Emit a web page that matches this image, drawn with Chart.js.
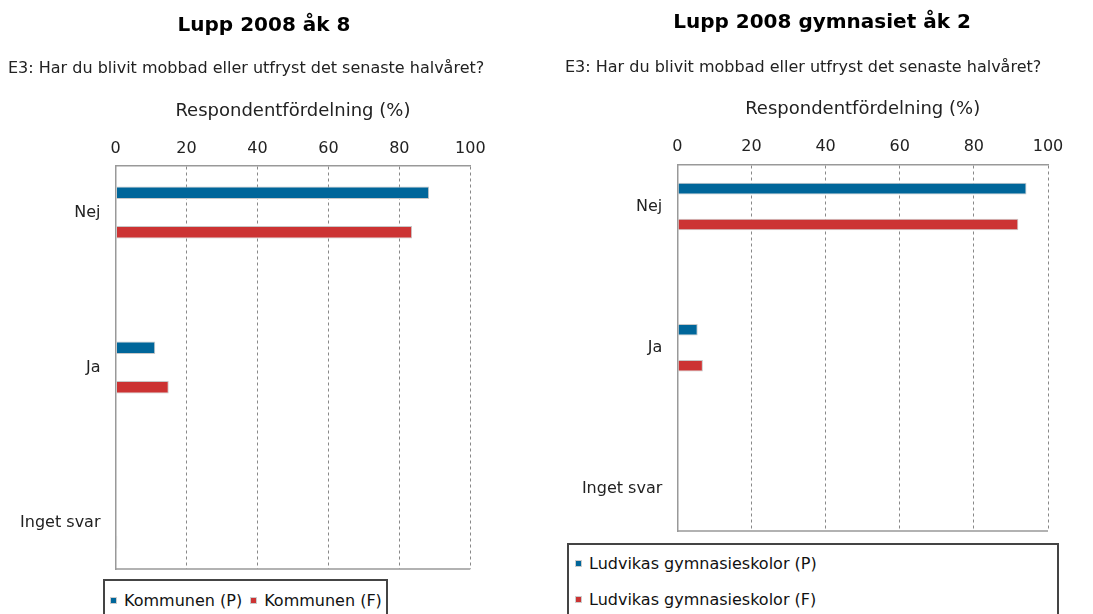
<!DOCTYPE html>
<html>
<head>
<meta charset="utf-8">
<script src="https://cdn.jsdelivr.net/npm/chart.js@4/dist/chart.umd.min.js"></script>
<style>
  body { margin: 0; width: 1093px; height: 614px; overflow: hidden; background: #fff; position: relative; }
  .panel { position: absolute; top: 0; }
  .legend {
    position: absolute; border: 2px solid #444; background: #fff;
    font-family: "DejaVu Sans", sans-serif; font-size: 16px; color: #111;
    box-sizing: border-box; white-space: nowrap;
  }
  .legend span.item { display: inline-flex; align-items: center; white-space: nowrap; }
  .legend i { display: inline-block; width: 5px; height: 5px; margin-right: 7px; border: 1px solid #ccc; }
</style>
</head>
<body>
<div class="panel" style="left:0"><canvas id="leftChart" width="540" height="614"></canvas></div>
<div class="panel" style="left:540px"><canvas id="rightChart" width="553" height="614"></canvas></div>
<div id="leftLegend" class="legend" style="left:103px; top:579px; width:285px; height:50px; padding:8px 0 0 5px;"></div>
<div id="rightLegend" class="legend" style="left:567px; top:543px; width:492px; height:90px; padding:9px 0 0 6px;"></div>
<script>
// Chart data
const categories = ['Nej', 'Ja', 'Inget svar'];
const xTickValues = [0, 20, 40, 60, 80, 100];
const question = 'E3: Har du blivit mobbad eller utfryst det senaste halvåret?';
const axisTitle = 'Respondentfördelning (%)';

const leftTitle = 'Lupp 2008 åk 8';
const leftSeriesNames = ['Kommunen (P)', 'Kommunen (F)'];
const leftP = [88.4, 11.2, 0];
const leftF = [83.6, 15.0, 0.5];

const rightTitle = 'Lupp 2008 gymnasiet åk 2';
const rightSeriesNames = ['Ludvikas gymnasieskolor (P)', 'Ludvikas gymnasieskolor (F)'];
const rightP = [94.2, 5.5, 0];
const rightF = [92.0, 6.9, 0.4];

const blue = '#00669a';
const red = '#cc3333';
const font = '"DejaVu Sans", sans-serif';

// bottom frame line of the plot area
const frameBottom = {
    id: 'frameBottom',
    beforeDatasetsDraw(chart) {
        const { ctx, chartArea: a } = chart;
        ctx.save();
        ctx.strokeStyle = '#999';
        ctx.lineWidth = 1.5;
        ctx.beginPath();
        ctx.moveTo(a.left, a.bottom);
        ctx.lineTo(a.right, a.bottom);
        ctx.stroke();
        ctx.restore();
    }
};

const toPoints = (values) => values.map((v, i) => ({ x: v, y: i }));

function makeChart(id, cfg) {
    return new Chart(document.getElementById(id), {
        type: 'bar',
        data: {
            datasets: [
                { label: cfg.names[0], data: toPoints(cfg.p), backgroundColor: blue },
                { label: cfg.names[1], data: toPoints(cfg.f), backgroundColor: red }
            ]
        },
        options: {
            indexAxis: 'y',
            responsive: false,
            animation: false,
            categoryPercentage: 0.51,
            barPercentage: 0.32,
            datasets: {
                bar: { borderColor: '#c8c8c8', borderWidth: 1, borderSkipped: false }
            },
            layout: { padding: cfg.padding },
            plugins: {
                legend: { display: false },
                tooltip: { enabled: false },
                title: {
                    display: true,
                    text: cfg.title,
                    color: '#000',
                    font: { family: font, size: 20, weight: 'bold' },
                    padding: { top: cfg.titleTop, bottom: 0 }
                },
                subtitle: {
                    display: true,
                    text: question,
                    align: 'start',
                    color: '#222',
                    font: { family: font, size: 16 },
                    padding: { top: cfg.subTop, bottom: cfg.subBottom }
                }
            },
            scales: {
                x: {
                    type: 'linear',
                    position: 'top',
                    min: 0,
                    max: 100,
                    afterBuildTicks: (s) => { s.ticks = xTickValues.map(v => ({ value: v })); },
                    ticks: { color: '#222', padding: 8, font: { family: font, size: 16 } },
                    grid: { color: '#888', lineWidth: 1, drawTicks: false },
                    border: { color: '#999', width: 1.5, dash: [3, 3] },
                    title: {
                        display: true,
                        text: axisTitle,
                        color: '#222',
                        font: { family: font, size: 18 },
                        padding: { top: 4, bottom: 9 }
                    }
                },
                y: {
                    type: 'linear',
                    reverse: true,
                    offset: false,
                    min: -0.3,
                    max: 2.3,
                    afterBuildTicks: (s) => { s.ticks = categories.map((c, i) => ({ value: i })); },
                    afterFit: (s) => { s.width = cfg.yWidth; },
                    ticks: {
                        color: '#222',
                        padding: 7,
                        font: { family: font, size: 16 },
                        callback: (v) => categories[v]
                    },
                    grid: { display: false, offset: false },
                    border: { color: '#999', width: 1.5 }
                },
                yRight: {
                    type: 'linear',
                    position: 'right',
                    afterFit: (s) => { s.width = cfg.rightGap; },
                    ticks: { display: false },
                    grid: { display: false },
                    border: { display: false }
                }
            }
        },
        plugins: [frameBottom]
    });
}

const leftChart = makeChart('leftChart', {
    title: leftTitle, names: leftSeriesNames, p: leftP, f: leftF,
    padding: { left: 8, right: 20, top: 0, bottom: 45 },
    titleTop: 14, subTop: 21.4, subBottom: 17.6,
    yWidth: 107.5, rightGap: 49.7
});

const rightChart = makeChart('rightChart', {
    title: rightTitle, names: rightSeriesNames, p: rightP, f: rightF,
    padding: { left: 25, right: 14, top: 0, bottom: 83 },
    titleTop: 11, subTop: 23.4, subBottom: 16.9,
    yWidth: 112.3, rightGap: 31
});

// HTML legends built from the chart datasets
function buildLegend(chart, el, stacked) {
    chart.data.datasets.forEach((ds, i) => {
        const item = document.createElement('span');
        item.className = 'item';
        if (stacked) item.style.display = 'flex';
        else if (i > 0) item.style.marginLeft = '8px';
        if (stacked && i > 0) item.style.marginTop = '17px';
        const sw = document.createElement('i');
        sw.style.background = ds.backgroundColor;
        item.appendChild(sw);
        item.appendChild(document.createTextNode(ds.label));
        el.appendChild(item);
    });
}
buildLegend(leftChart, document.getElementById('leftLegend'), false);
buildLegend(rightChart, document.getElementById('rightLegend'), true);
</script>
</body>
</html>
